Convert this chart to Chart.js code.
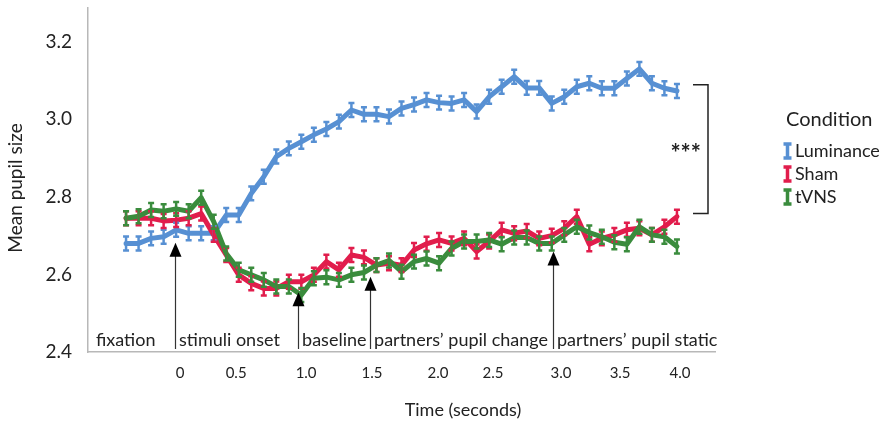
<!DOCTYPE html>
<html>
<head>
<meta charset="utf-8">
<script src="https://cdn.jsdelivr.net/npm/chart.js@4.4.1/dist/chart.umd.min.js"></script>
<style>
  html, body { margin: 0; padding: 0; background: #fff; }
</style>
</head>
<body>
<canvas id="pupilChart" width="888" height="425"></canvas>
<script>
//---------dados (one value per sample)

const luminance = [2.680, 2.680, 2.693, 2.697, 2.715, 2.706, 2.706, 2.706, 2.753, 2.753,
  2.809, 2.852, 2.904, 2.925, 2.942, 2.960, 2.975, 2.994, 3.024, 3.013,
  3.013, 3.007, 3.028, 3.038, 3.050, 3.043, 3.041, 3.050, 3.020, 3.058,
  3.084, 3.110, 3.081, 3.081, 3.041, 3.058, 3.084, 3.093, 3.080, 3.080,
  3.105, 3.130, 3.093, 3.080, 3.073];

const sham = [2.745, 2.745, 2.745, 2.738, 2.740, 2.745, 2.757, 2.702, 2.650, 2.599,
  2.577, 2.564, 2.564, 2.581, 2.581, 2.599, 2.633, 2.612, 2.650, 2.644,
  2.624, 2.629, 2.624, 2.663, 2.679, 2.689, 2.680, 2.693, 2.659, 2.685,
  2.715, 2.706, 2.712, 2.693, 2.700, 2.719, 2.749, 2.678, 2.693, 2.702,
  2.715, 2.719, 2.702, 2.723, 2.749];

const tvns = [2.745, 2.750, 2.766, 2.763, 2.769, 2.763, 2.798, 2.736, 2.654, 2.612,
  2.599, 2.586, 2.569, 2.569, 2.547, 2.590, 2.593, 2.586, 2.599, 2.605,
  2.624, 2.636, 2.607, 2.633, 2.641, 2.629, 2.667, 2.685, 2.685, 2.689,
  2.678, 2.695, 2.695, 2.680, 2.680, 2.702, 2.723, 2.708, 2.697, 2.683,
  2.678, 2.723, 2.702, 2.697, 2.672];

// standard error of each condition
const errLuminance = 0.018;
const errSham = 0.018;
const errTvns = 0.018;

const conditionNames = ['Luminance', 'Sham', 'tVNS'];
const conditionColors = ['#5790d3', '#e11d4c', '#3a8c3d'];

const yTicks = [2.4, 2.6, 2.8, 3.0, 3.2];
const timeTickAt = [4.31, 8.79, 14.38, 19.65, 24.92, 29.31, 34.74, 39.46, 44.25];
const timeTickLabels = ['0', '0.5', '1.0', '1.5', '2.0', '2.5', '3.0', '3.5', '4.0'];

// trial phases, arrows mark where a phase starts
const phaseNames = ['fixation', 'stimuli onset', 'baseline', 'partners\u2019 pupil change', 'partners\u2019 pupil static'];
const phaseStart = [3.91, 13.74, 19.49, 34.1];
const arrowTip = [2.682, 2.554, 2.594, 2.659];

const bracketRange = [2.757, 3.089];
const sigLabel = '***';


//---------plugin para barras de erro, setas e legenda

const extras = {
  id: 'extras',
  afterDatasetsDraw(chart) {
    const ctx = chart.ctx;
    const xs = chart.scales.x;
    const ys = chart.scales.y;
    const area = chart.chartArea;
    const errs = [errLuminance, errSham, errTvns];

    // error bars
    chart.data.datasets.forEach(function (ds, d) {
      ctx.save();
      ctx.strokeStyle = ds.borderColor;
      ctx.lineWidth = 2.5;
      ds.data.forEach(function (p) {
        const px = xs.getPixelForValue(p.x);
        const y1 = ys.getPixelForValue(p.y + errs[d]);
        const y2 = ys.getPixelForValue(p.y - errs[d]);
        ctx.beginPath();
        ctx.moveTo(px, y1); ctx.lineTo(px, y2);
        ctx.moveTo(px - 3, y1); ctx.lineTo(px + 3, y1);
        ctx.moveTo(px - 3, y2); ctx.lineTo(px + 3, y2);
        ctx.stroke();
      });
      ctx.restore();
    });

    // arrows + phase separators
    ctx.save();
    ctx.strokeStyle = '#333';
    ctx.fillStyle = '#000';
    ctx.lineWidth = 1.2;
    phaseStart.forEach(function (s, k) {
      const px = Math.round(xs.getPixelForValue(s)) + 0.5;
      const tip = ys.getPixelForValue(arrowTip[k]);
      ctx.beginPath();
      ctx.moveTo(px, tip + 10);
      ctx.lineTo(px, area.bottom - 3);
      ctx.stroke();
      ctx.beginPath();
      ctx.moveTo(px, tip);
      ctx.lineTo(px - 6, tip + 14);
      ctx.lineTo(px + 6, tip + 14);
      ctx.closePath();
      ctx.fill();
    });

    ctx.font = '18px Lato';
    ctx.fillStyle = '#222';
    ctx.textBaseline = 'middle';
    ctx.textAlign = 'left';
    phaseNames.forEach(function (name, k) {
      const left = k === 0 ? area.left + 8 : xs.getPixelForValue(phaseStart[k - 1]) + 4;
      ctx.fillText(name, left, 340);
    });

    // significance bracket
    ctx.strokeStyle = '#222';
    ctx.lineWidth = 1.5;
    const bTop = ys.getPixelForValue(bracketRange[1]);
    const bBot = ys.getPixelForValue(bracketRange[0]);
    const bx = area.right - 7;
    ctx.beginPath();
    ctx.moveTo(bx - 15, bTop); ctx.lineTo(bx, bTop);
    ctx.lineTo(bx, bBot); ctx.lineTo(bx - 15, bBot);
    ctx.stroke();
    ctx.font = 'bold 24px Lato';
    ctx.textAlign = 'right';
    ctx.fillText(sigLabel, bx - 7, (bTop + bBot) / 2 + 5);

    // axis titles
    ctx.font = '18px Lato';
    ctx.textAlign = 'center';
    ctx.fillText('Time (seconds)', 463, 410);
    ctx.save();
    ctx.translate(16, 188);
    ctx.rotate(-Math.PI / 2);
    ctx.font = '19px Lato';
    ctx.fillText('Mean pupil size', 0, 0);
    ctx.restore();

    // legend
    ctx.textAlign = 'left';
    ctx.font = '20px Lato';
    ctx.fillText('Condition', 786, 120);
    ctx.font = '18px Lato';
    conditionNames.forEach(function (name, k) {
      const cy = 151 + k * 23;
      ctx.strokeStyle = conditionColors[k];
      ctx.lineWidth = 3.5;
      ctx.beginPath();
      ctx.moveTo(787.5, cy - 7); ctx.lineTo(787.5, cy + 7);
      ctx.moveTo(783.5, cy - 7); ctx.lineTo(791.5, cy - 7);
      ctx.moveTo(783.5, cy + 7); ctx.lineTo(791.5, cy + 7);
      ctx.stroke();
      ctx.fillStyle = '#222';
      ctx.fillText(name, 795, cy);
    });
    ctx.restore();
  }
};


//---------gráfico

function toPoints(arr) {
  return arr.map(function (v, i) { return { x: i, y: v }; });
}

function noPad(scale) {
  scale.paddingTop = 0;
  scale.paddingBottom = 0;
  scale.paddingLeft = 0;
  scale.paddingRight = 0;
}

let ctx = document.getElementById('pupilChart');

new Chart(ctx, {
  type: 'line',
  data: {
    datasets: [
      { label: conditionNames[0], data: toPoints(luminance), borderColor: conditionColors[0], order: 2 },
      { label: conditionNames[1], data: toPoints(sham), borderColor: conditionColors[1], order: 1 },
      { label: conditionNames[2], data: toPoints(tvns), borderColor: conditionColors[2], order: 0 }
    ]
  },
  options: {
    responsive: false,
    animation: false,
    layout: { padding: { top: 8, right: 173, left: 0, bottom: 0 } },
    elements: {
      line: { borderWidth: 5, tension: 0, borderJoinStyle: 'round', borderCapStyle: 'round' },
      point: { radius: 0 }
    },
    plugins: {
      legend: { display: false },
      tooltip: { enabled: false }
    },
    scales: {
      x: {
        type: 'linear',
        min: -3.04,
        max: 47.04,
        grid: { display: false },
        border: { display: true, color: '#b8b8b8', width: 1.5 },
        afterBuildTicks: function (scale) {
          scale.ticks = timeTickAt.map(function (v) { return { value: v }; });
        },
        afterFit: function (scale) { scale.height = 73; noPad(scale); },
        ticks: {
          autoSkip: false,
          maxRotation: 0,
          padding: 4,
          color: '#222',
          font: { family: 'Lato', size: 15 },
          callback: function (val, idx) { return timeTickLabels[idx]; }
        }
      },
      y: {
        min: 2.4,
        max: 3.287,
        grid: { display: false },
        border: { display: true, color: '#b8b8b8', width: 1.5 },
        afterBuildTicks: function (scale) {
          scale.ticks = yTicks.map(function (v) { return { value: v }; });
        },
        afterFit: function (scale) { scale.width = 88; noPad(scale); },
        ticks: {
          padding: 8,
          color: '#222',
          font: { family: 'Lato', size: 19 },
          callback: function (val) { return val.toFixed(1); }
        }
      }
    }
  },
  plugins: [extras]
});
</script>
</body>
</html>
